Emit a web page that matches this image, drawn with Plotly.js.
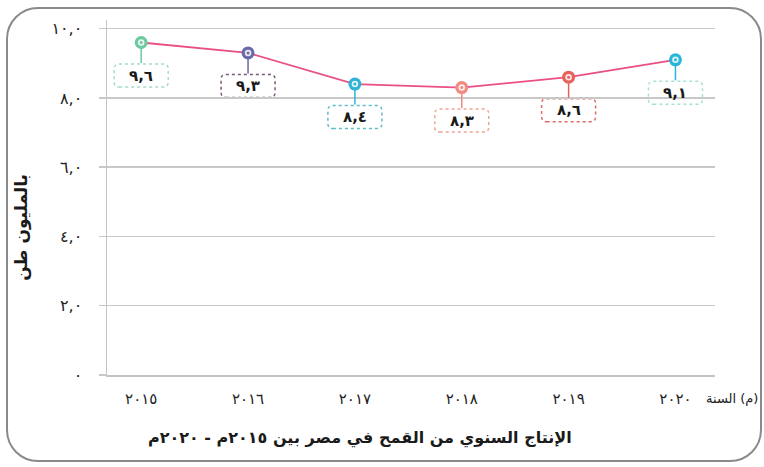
<!DOCTYPE html>
<html>
<head>
<meta charset="utf-8">
<script src="https://cdn.plot.ly/plotly-3.0.1.min.js"></script>
<style>
  html, body { margin: 0; padding: 0; background: #ffffff; }
  #wrap { position: relative; width: 764px; height: 467px; overflow: hidden; }
  #chart { position: absolute; left: 0; top: 0; width: 764px; height: 467px; }
  #frame { position: absolute; left: 6px; top: 7px; width: 752px; height: 451px;
           border: 2.5px solid #8a8a8a; border-radius: 32px; pointer-events: none; }
</style>
</head>
<body>
<div id="wrap">
  <div id="chart"></div>
  <div id="frame"></div>
</div>
<script>
// ---- data ----
const years = ['٢٠١٥', '٢٠١٦', '٢٠١٧', '٢٠١٨', '٢٠١٩', '٢٠٢٠'];
const production = [9.6, 9.3, 8.4, 8.3, 8.6, 9.1];
const yTickVals = [0, 2, 4, 6, 8, 10];
const yTickText = ['٠', '٢,٠', '٤,٠', '٦,٠', '٨,٠', '١٠,٠'];
const xTitleText = 'الإنتاج السنوي من القمح في مصر بين ٢٠١٥م - ٢٠٢٠م';
const yTitleText = 'بالمليون طن';
const xAxisLabel = '\u200Eالسنة\u200E (م)';

// ---- styles ----
const markerColors = ['#6cc9a0', '#6a6aa8', '#2fb4d6', '#f28a80', '#e8605a', '#27b5d8'];
const boxColors = ['#a6dcc6', '#7a5a78', '#5fbcc8', '#f0a594', '#e06a66', '#a6e0d6'];
const lineColor = '#ea4f86';
const FONT = 'DejaVu Sans, sans-serif';

const arabicDigits = '٠١٢٣٤٥٦٧٨٩';
function toArabic(v) {
  return v.toFixed(1).replace('.', ',').replace(/[0-9]/g, d => arabicDigits[+d]);
}

const xIdx = years.map((_, i) => i);
const offsetPx = 33;   // label box centre below the point, px
const boxHalfW = 27, boxHalfH = 11.5, r = 5;

function roundedRectPath(x0, x1, y0, y1, rad) {
  return `M${x0 + rad},${y0} L${x1 - rad},${y0} Q${x1},${y0} ${x1},${y0 + rad} ` +
         `L${x1},${y1 - rad} Q${x1},${y1} ${x1 - rad},${y1} L${x0 + rad},${y1} ` +
         `Q${x0},${y1} ${x0},${y1 - rad} L${x0},${y0 + rad} Q${x0},${y0} ${x0 + rad},${y0} Z`;
}

const traces = [
  { x: xIdx, y: production, type: 'scatter', mode: 'lines',
    line: { color: lineColor, width: 1.8 }, hoverinfo: 'skip', showlegend: false },
  { x: xIdx, y: production, type: 'scatter', mode: 'markers',
    marker: { size: 13, color: markerColors, line: { width: 0 } },
    hoverinfo: 'skip', showlegend: false },
  { x: xIdx, y: production, type: 'scatter', mode: 'markers',
    marker: { size: 6.5, color: 'rgba(255,255,255,0.85)', line: { width: 0 } },
    hoverinfo: 'skip', showlegend: false },
  { x: xIdx, y: production, type: 'scatter', mode: 'markers',
    marker: { size: 3, color: markerColors, line: { width: 0 } },
    hoverinfo: 'skip', showlegend: false }
];

const annotations = production.map((v, i) => ({
  x: i, y: v, xref: 'x', yref: 'y',
  text: toArabic(v), showarrow: true, ax: 0, ay: offsetPx,
  arrowhead: 0, arrowwidth: 1.5, arrowcolor: markerColors[i], standoff: 6,
  font: { family: FONT, size: 15, color: '#1a1a1a', weight: 'bold' },
  bgcolor: 'rgba(255,255,255,0)', borderpad: 3
}));

annotations.push({
  xref: 'paper', yref: 'paper', x: 1.072, y: 0, xanchor: 'right', yanchor: 'middle',
  yshift: -23, text: xAxisLabel, showarrow: false, borderpad: 0,
  font: { family: FONT, size: 13, color: '#222' }
});
annotations.push({
  xref: 'paper', yref: 'paper', x: 0.416, y: 0, xanchor: 'center', yanchor: 'middle',
  yshift: -63, text: xTitleText, showarrow: false,
  font: { family: FONT, size: 16, color: '#1a1a1a', weight: 'bold' }
});
annotations.push({
  xref: 'paper', yref: 'paper', x: -0.14, y: 0.417, xanchor: 'center', yanchor: 'middle',
  textangle: -90, text: yTitleText, showarrow: false,
  font: { family: FONT, size: 17, color: '#1a1a1a', weight: 'bold' }
});

const shapes = production.map((v, i) => ({
  type: 'path', xref: 'x', yref: 'y',
  xsizemode: 'pixel', ysizemode: 'pixel', xanchor: i, yanchor: v,
  path: roundedRectPath(-boxHalfW, boxHalfW, -(offsetPx + boxHalfH), -(offsetPx - boxHalfH), r),
  line: { color: boxColors[i], width: 1.5, dash: 'dot' },
  fillcolor: 'rgba(255,255,255,0.9)', layer: 'below'
}));

const layout = {
  width: 764, height: 467,
  margin: { l: 107, r: 49, t: 20, b: 92 },
  paper_bgcolor: '#ffffff', plot_bgcolor: '#ffffff',
  showlegend: false,
  font: { family: FONT, color: '#222' },
  xaxis: {
    range: [-0.32, 5.37], tickvals: xIdx, ticktext: years,
    showgrid: false, zeroline: false, showline: true, linecolor: '#c4c4c4', linewidth: 1.5,
    ticks: '', ticklabelstandoff: 9,
    tickfont: { family: FONT, size: 15, color: '#222' }
  },
  yaxis: {
    range: [0, 10.25], tickvals: yTickVals, ticktext: yTickText,
    showgrid: true, gridcolor: '#c8c8c8', gridwidth: 1.5,
    zeroline: false, showline: true, linecolor: '#c4c4c4', linewidth: 1.5,
    ticks: 'outside', ticklen: 7, tickcolor: '#c8c8c8', tickwidth: 1.5,
    ticklabelstandoff: 13,
    tickfont: { family: FONT, size: 16, color: '#222' }
  },
  annotations: annotations,
  shapes: shapes
};

Plotly.newPlot('chart', traces, layout, { staticPlot: true, displayModeBar: false });
</script>
</body>
</html>
